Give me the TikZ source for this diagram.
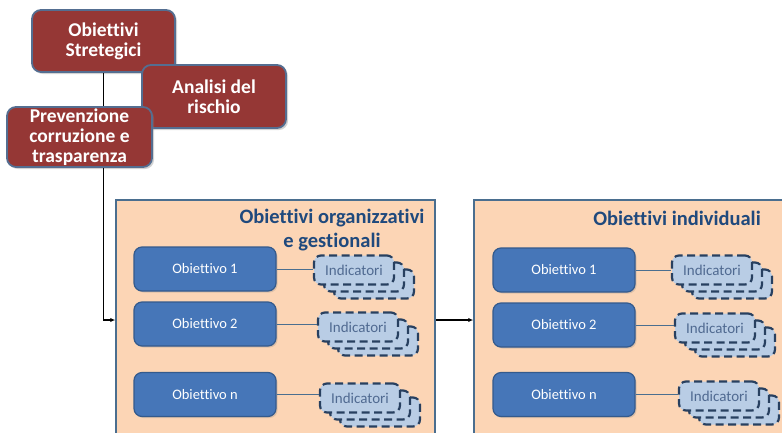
\documentclass[tikz,border=0pt]{standalone}
\usepackage{fontspec}
\setmainfont{Carlito}[Ligatures=NoCommon]
\definecolor{stratred}{RGB}{149, 55, 53}
\definecolor{stratedge}{RGB}{84, 110, 145}
\definecolor{panelfill}{RGB}{252, 213, 181}
\definecolor{paneledge}{RGB}{74, 110, 143}
\definecolor{titleblue}{RGB}{31, 73, 125}
\definecolor{objblue}{RGB}{70, 118, 184}
\definecolor{objedge}{RGB}{52, 90, 140}
\definecolor{indfill}{RGB}{185, 205, 229}
\definecolor{indedge}{RGB}{40, 64, 96}
\definecolor{indtext}{RGB}{80, 106, 145}
\usetikzlibrary{arrows.meta, positioning, shadows}

\begin{document}
\begin{tikzpicture}[x=1pt, y=-1pt,
  stratbox/.style={draw=stratedge, line width=1.8pt, fill=stratred, rounded corners=9pt,
    text=white, font=\bfseries\fontsize{19.5}{20}\selectfont, align=center, inner sep=0pt,
    drop shadow={opacity=0.35, shadow xshift=2pt, shadow yshift=-2pt}},
  panel/.style={draw=paneledge, line width=1.5pt, fill=panelfill},
  paneltitle/.style={text=titleblue, font=\bfseries\fontsize{20.5}{24}\selectfont, align=center},
  objbox/.style={draw=objedge, line width=1.2pt, fill=objblue, rounded corners=8pt,
    minimum width=142pt, minimum height=44pt, text=white, font=\fontsize{14.5}{16}\selectfont,
    drop shadow={opacity=0.25, shadow xshift=1.5pt, shadow yshift=-1.5pt}},
  indbox/.style={draw=indedge, line width=2.2pt, dash pattern=on 8pt off 4.5pt, fill=indfill,
    rounded corners=7pt, minimum width=80pt, minimum height=29pt, text=indtext,
    font=\fontsize{15}{16}\selectfont},
  link/.style={draw=paneledge, line width=0.8pt},
  flow/.style={black, line width=1.6pt}]
  \clip (0, 0) rectangle (782, 432);

  % Strategic level
  \node[stratbox, minimum width=143pt, minimum height=62pt] (strat) at (103.5, 41) {Obiettivi\\Stretegici};
  \node[stratbox, minimum width=144pt, minimum height=63pt] (risk) at (214, 96.5) {Analisi del\\rischio};
  \node[stratbox, minimum width=145pt, minimum height=60pt] (prev) at (79.5, 137) {Prevenzione\\corruzione e\\trasparenza};

  % Panels
  \node[panel, minimum width=319pt, minimum height=240pt] (orgpanel) at (275.5, 320) {};
  \node[panel, minimum width=330pt, minimum height=240pt] (indpanel) at (639, 320) {};
  \node[paneltitle] (orgtitle) at (332, 230) {Obiettivi organizzativi\\e gestionali};
  \node[paneltitle] (indtitle) at (677, 218) {Obiettivi individuali};

  \draw[flow] (strat.south) -- (strat.south |- prev.north);
  \draw[flow, -{Latex[length=5pt, width=4.5pt]}] (strat.south |- prev.south) |- (orgpanel.west);
  \draw[flow, -{Latex[length=5pt, width=4.5pt]}] (orgpanel.east) -- (indpanel.west);

  % Obiettivi organizzativi e gestionali
  \begin{scope}
    \node[objbox] (orgob1) at (205, 269) {Obiettivo 1};
    \node[objbox] (orgob2) at (205, 324) {Obiettivo 2};
    \node[objbox] (orgobn) at (205, 394.5) {Obiettivo n};

    \node[indbox] (orgind1c) at (374, 284) {};
    \node[indbox] (orgind1b) at (364, 277) {};
    \node[indbox] (orgind1) at (354, 270) {Indicatori};
    \node[indbox] (orgind2c) at (378, 341) {};
    \node[indbox] (orgind2b) at (368, 334) {};
    \node[indbox] (orgind2) at (358, 327) {Indicatori};
    \node[indbox] (orgindnc) at (380, 412) {};
    \node[indbox] (orgindnb) at (370, 405) {};
    \node[indbox] (orgindn) at (360, 398) {Indicatori};

    \draw[link] (orgob1.east) -- (orgob1.east -| orgind1.west);
    \draw[link] (orgob2.east) -- (orgob2.east -| orgind2.west);
    \draw[link] (orgobn.east) -- (orgobn.east -| orgindn.west);
  \end{scope}

  % Obiettivi individuali
  \begin{scope}[xshift=357pt]
    \node[objbox] (indob1) at (207, 270) {Obiettivo 1};
    \node[objbox] (indob2) at (207, 325) {Obiettivo 2};
    \node[objbox] (indobn) at (207, 394.5) {Obiettivo n};

    \node[indbox] (indind1c) at (375, 284) {};
    \node[indbox] (indind1b) at (365, 277) {};
    \node[indbox] (indind1) at (355, 270) {Indicatori};
    \node[indbox] (indind2c) at (378, 342) {};
    \node[indbox] (indind2b) at (368, 335) {};
    \node[indbox] (indind2) at (358, 328) {Indicatori};
    \node[indbox] (indindnc) at (382, 410) {};
    \node[indbox] (indindnb) at (372, 403) {};
    \node[indbox] (indindn) at (362, 396) {Indicatori};

    \draw[link] (indob1.east) -- (indob1.east -| indind1.west);
    \draw[link] (indob2.east) -- (indob2.east -| indind2.west);
    \draw[link] (indobn.east) -- (indobn.east -| indindn.west);
  \end{scope}
\end{tikzpicture}
\end{document}
